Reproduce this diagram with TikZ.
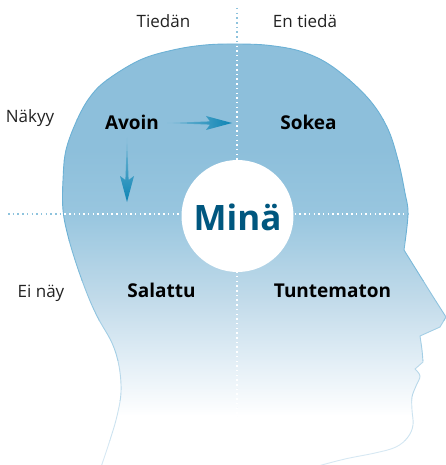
\documentclass[tikz,border=0pt]{standalone}
\usepackage{fontspec}
\setmainfont{Open Sans}
\usetikzlibrary{calc}
\definecolor{fillA}{HTML}{8DBFDB}
\definecolor{fillB}{HTML}{98C6DF}
\definecolor{fillC}{HTML}{C2DBEA}
\definecolor{fillD}{HTML}{E2EEF6}
\definecolor{edgeA}{HTML}{6CB1D5}
\definecolor{edgeB}{HTML}{D6E8F3}
\definecolor{dotblue}{HTML}{8EC3DD}
\definecolor{arrowlight}{HTML}{7DBBD7}
\definecolor{arrowdark}{HTML}{0C84B4}
\definecolor{minablue}{HTML}{00577F}
\definecolor{labelgray}{HTML}{222222}
\begin{document}
\begin{tikzpicture}[x=1pt,y=-1pt,
  lbl/.style={font=\fontsize{17}{20}\selectfont, text=labelgray, inner sep=0pt, anchor=base},
  quad/.style={font=\fontsize{19}{22}\selectfont\bfseries, text=black, inner sep=0pt, anchor=base},
  dotline/.style={line width=1.4pt, dash pattern=on 1.5pt off 3.2pt},
]
\useasboundingbox (0,0) rectangle (445,465);

% head silhouette, facing right
\def\headpath{(100,470) -- plot[smooth,tension=0.6] coordinates {(100,470) (110,440) (117,416) (121,392) (119,366) (112,343) (98,318) (88,296) (77,266) (68,236) (63,210) (63,180) (66,150) (77,120) (90,97) (107,80) (140,60) (173,50) (205,45) (237,44) (270,45.5) (303,52) (333,67) (367,97) (387,127) (398,160) (405,193) (408,214) (404,250)}
  -- (432,295) -- (446,317) -- (440,327) -- (420,336)
  -- plot[smooth,tension=0.5] coordinates {(420,336) (422,350) (423,362)}
  -- (415,369)
  -- plot[smooth,tension=0.6] coordinates {(415,369) (420,376) (416,386) (412,397) (412,410) (413,425) (408,437) (396,447) (375,453) (345,459) (315,467) (310,470)}
  -- cycle}

% gradient fill: blue at the crown, fading to white at the neck
\begin{scope}
  \clip \headpath;
  \fill[fillA] (0,0) rectangle (445,151);
  \shade[top color=fillA, bottom color=fillB] (0,150) rectangle (445,215);
  \shade[top color=fillB, bottom color=fillC] (0,214) rectangle (445,301);
  \shade[top color=fillC, bottom color=fillD] (0,300) rectangle (445,361);
  \shade[top color=fillD, bottom color=white] (0,360) rectangle (445,416);
  \fill[white] (0,415) rectangle (445,470);
\end{scope}

% outline, fading downwards
\foreach \i in {0,...,11}{
  \pgfmathsetmacro\mid{40*\i+20}
  \pgfmathsetmacro\p{max(0,min(100,(440-\mid)/2.1))}
  \begin{scope}
    \clip (-5,40*\i) rectangle (455,40*\i+40);
    \draw[line width=0.9pt, edgeA!\p!edgeB, line join=round] \headpath;
  \end{scope}
}

% quadrant axes
\coordinate (vt) at (237,8);
\coordinate (vb) at (237,418);
\coordinate (hl) at (8,214);
\coordinate (hr) at (408,214);
\draw[dotline, dotblue] (vt) -- (vb);
\draw[dotline, dotblue] (hl) -- (hr);
\begin{scope}
  \clip \headpath;
  \draw[dotline, white] (vt) -- (vb);
  \draw[dotline, white] (hl) -- (hr);
\end{scope}

% centre disc
\node[circle, fill=white, minimum size=112pt, inner sep=0pt] (disc) at (237.5,216) {};
\node[font=\fontsize{35}{40}\selectfont\bfseries, text=minablue, anchor=base, inner sep=0pt] (mina) at (237.5,230) {Minä};

% axis labels
\node[lbl] (tiedan) at (163.5,28) {Tiedän};
\node[lbl] (entieda) at (305,28) {En tiedä};
\node[lbl] (nakyy) at (30,123) {Näkyy};
\node[lbl] (einay) at (41,297) {Ei näy};

% quadrant labels
\node[quad] (avoin) at (132,129.5) {Avoin};
\node[quad] (sokea) at (308.5,129.5) {Sokea};
\node[quad] (salattu) at (161.5,297) {Salattu};
\node[quad] (tuntematon) at (332.5,297) {Tuntematon};

% tapered arrows out of "Avoin"
\coordinate (rs) at (167,123);
\coordinate (re) at (232,123);
\shade[left color=arrowlight, right color=arrowdark]
  (rs) -- ($(re)+(-22,-1.6)$) -- ($(re)+(-26,-7)$) -- (re)
  -- ($(re)+(-26,7)$) -- ($(re)+(-22,1.6)$) -- cycle;
\coordinate (ds) at (127,138);
\coordinate (de) at (127,202);
\shade[top color=arrowlight, bottom color=arrowdark]
  (ds) -- ($(de)+(-1.6,-22)$) -- ($(de)+(-7,-26)$) -- (de)
  -- ($(de)+(7,-26)$) -- ($(de)+(1.6,-22)$) -- cycle;
\end{tikzpicture}
\end{document}
